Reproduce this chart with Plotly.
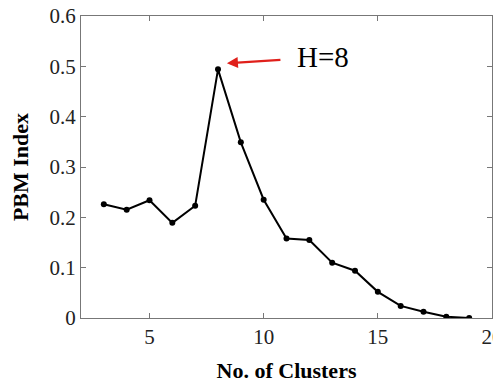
import plotly.graph_objects as go

clusters = list(range(3, 20))
pbm = [0.226, 0.215, 0.234, 0.189, 0.223, 0.494, 0.349, 0.235, 0.158, 0.155,
       0.110, 0.094, 0.052, 0.024, 0.0125, 0.0026, 0.0]
x_ticks = [5, 10, 15, 20]
y_ticks = [0, 0.1, 0.2, 0.3, 0.4, 0.5, 0.6]
y_ticktext = ["0", "0.1", "0.2", "0.3", "0.4", "0.5", "0.6"]

font_family = "Liberation Serif, Times New Roman, serif"

fig = go.Figure()
fig.add_trace(go.Scatter(
    x=clusters, y=pbm, mode="lines+markers",
    line=dict(color="black", width=2),
    marker=dict(color="black", size=6),
    showlegend=False,
))

fig.add_annotation(
    x=8.39, y=0.506, ax=10.8, ay=0.513, xref="x", yref="y", axref="x", ayref="y",
    text="", showarrow=True, arrowhead=2, arrowsize=1, arrowwidth=2.2, arrowcolor="#e0201b",
)
fig.add_annotation(
    x=12.6, y=0.518, xref="x", yref="y", text="H=8", showarrow=False,
    font=dict(family=font_family, size=29, color="black"),
)

axis_common = dict(
    showline=True, linecolor="#777777", linewidth=1, mirror="ticks",
    ticks="inside", ticklen=5, tickcolor="#777777", showgrid=False, zeroline=False,
    automargin=False, ticklabeloverflow="allow",
    tickfont=dict(family=font_family, size=21, color="#222222"),
)

fig.update_layout(
    width=493, height=377,
    margin=dict(l=73, r=9, t=8, b=67),
    plot_bgcolor="white", paper_bgcolor="white",
    xaxis=dict(range=[2, 20], tickvals=x_ticks,
               title=dict(text="<b>No. of Clusters</b>", standoff=14,
                          font=dict(family=font_family, size=22, color="black")),
               **axis_common),
    yaxis=dict(range=[0, 0.6], tickvals=y_ticks, ticktext=y_ticktext,
               title=dict(text="<b>PBM Index</b>", standoff=21,
                          font=dict(family=font_family, size=22, color="black")),
               **axis_common),
)

fig.write_html("out.html")
